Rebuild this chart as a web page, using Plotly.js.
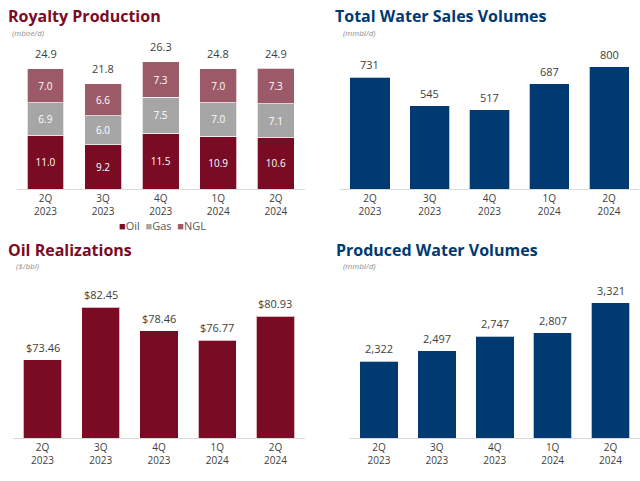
<!DOCTYPE html>
<html>
<head>
<meta charset="utf-8">
<script src="https://cdn.plot.ly/plotly-3.0.1.min.js"></script>
<style>html,body{margin:0;padding:0;background:#fff;}#chart{width:640px;height:481px;}</style>
</head>
<body>
<div id="chart"></div>
<script>
// ---- data ----
const quarters = ['2Q<br>2023', '3Q<br>2023', '4Q<br>2023', '1Q<br>2024', '2Q<br>2024'];
const seriesNames = ['Oil', 'Gas', 'NGL'];
const oilVol = [11.0, 9.2, 11.5, 10.9, 10.6];
const gasVol = [6.9, 6.0, 7.5, 7.0, 7.1];
const nglVol = [7.0, 6.6, 7.3, 7.0, 7.3];
const royaltyTotals = [24.9, 21.8, 26.3, 24.8, 24.9];
const waterSales = [731, 545, 517, 687, 800];
const oilRealizations = [73.46, 82.45, 78.46, 76.77, 80.93];
const producedWater = [2322, 2497, 2747, 2807, 3321];

// ---- styles ----
const MAROON = '#7a0b25', GRAY = '#a6a6a6', ROSE = '#9c5a68', NAVY = '#003a70';
const seriesColors = [MAROON, GRAY, ROSE];
const FONT = 'Open Sans, Noto Sans, sans-serif';
const TXT = '#404040';
const W = 640, H = 481;
const px = v => v / W;
const py = v => (H - v) / H;
const edge = {color: 'rgba(255,255,255,0.7)', width: 1};

const stackVals = [oilVol, gasVol, nglVol];
const traces = stackVals.map((vals, k) => ({
  type: 'bar', name: seriesNames[k], x: quarters, y: vals, xaxis: 'x', yaxis: 'y', width: 0.64,
  marker: {color: seriesColors[k], line: edge}, text: vals.map(v => v.toFixed(1)), textposition: 'inside',
  insidetextanchor: 'middle', textfont: {color: '#fff', size: 10, family: FONT}, hoverinfo: 'skip',
  showlegend: false
})).concat([
  {type: 'bar', name: 'Water Sales', x: quarters, y: waterSales, xaxis: 'x2', yaxis: 'y2', width: 0.67,
   marker: {color: NAVY, line: edge}, showlegend: false, hoverinfo: 'skip'},
  {type: 'bar', name: 'Oil Realizations', x: quarters, y: oilRealizations, xaxis: 'x3', yaxis: 'y3', width: 0.66,
   marker: {color: MAROON, line: edge}, showlegend: false, hoverinfo: 'skip'},
  {type: 'bar', name: 'Produced Water', x: quarters, y: producedWater, xaxis: 'x4', yaxis: 'y4', width: 0.665,
   marker: {color: NAVY, line: edge}, showlegend: false, hoverinfo: 'skip'}
]);

const valueAnn = (xs, ys, labels, xr, yr, shift) => xs.map((x, i) => ({
  x: x, y: ys[i], xref: xr, yref: yr, text: labels[i], showarrow: false,
  yanchor: 'bottom', yshift: shift, font: {size: 11, color: TXT, family: FONT}
}));

const titleAnn = (text, x, y, color) => ({
  text: '<b>' + text + '</b>', x: px(x), y: py(y), xref: 'paper', yref: 'paper',
  xanchor: 'left', yanchor: 'middle', showarrow: false,
  font: {size: 16, color: color, family: FONT}
});
const unitAnn = (text, x, y) => ({
  text: '<i>' + text + '</i>', x: px(x), y: py(y), xref: 'paper', yref: 'paper',
  xanchor: 'left', yanchor: 'middle', showarrow: false,
  font: {size: 8, color: '#8c8c8c', family: FONT}
});

// compact legend, as in the source slide
const legendText = seriesNames.map((n, k) =>
  '<span style="color:' + seriesColors[k] + '">■</span>' + n).join('  ');

const annotations = [].concat(
  valueAnn(quarters, royaltyTotals, royaltyTotals.map(v => v.toFixed(1)), 'x', 'y', 6),
  valueAnn(quarters, waterSales, waterSales.map(v => String(v)), 'x2', 'y2', 3),
  valueAnn(quarters, oilRealizations, oilRealizations.map(v => '$' + v.toFixed(2)), 'x3', 'y3', 3),
  valueAnn(quarters, producedWater, producedWater.map(v => v.toLocaleString('en-US')), 'x4', 'y4', 3),
  [
    titleAnn('Royalty Production', 6, 16, MAROON),
    unitAnn('(mboe/d)', 10, 32),
    titleAnn('Total Water Sales Volumes', 333, 16, NAVY),
    unitAnn('(mmbl/d)', 341, 32),
    titleAnn('Oil Realizations', 6, 250, MAROON),
    unitAnn('($/bbl)', 14, 266),
    titleAnn('Produced Water Volumes', 334, 250, NAVY),
    unitAnn('(mmbl/d)', 341, 266),
    {text: legendText, x: px(162), y: py(225), xref: 'paper', yref: 'paper', xanchor: 'center',
     yanchor: 'middle', showarrow: false, font: {size: 11, color: '#595959', family: FONT}}
  ]
);

const xax = (d0, d1, anchor) => ({
  domain: [px(d0), px(d1)], anchor: anchor, type: 'category', range: [-0.5, 4.5],
  showline: true, linecolor: '#d9d9d9', linewidth: 1, ticks: '', showgrid: false,
  zeroline: false, fixedrange: true, tickfont: {size: 10, color: TXT, family: FONT}
});
const yax = (top, bottom, r, anchor) => ({
  domain: [py(bottom), py(top)], anchor: anchor, range: r, visible: false,
  showgrid: false, zeroline: false, fixedrange: true
});

const layout = {
  width: W, height: H, margin: {l: 0, r: 0, t: 0, b: 0},
  paper_bgcolor: '#fff', plot_bgcolor: '#fff',
  barmode: 'stack', showlegend: false,
  font: {family: FONT, color: TXT},
  xaxis: xax(16.7, 304.7, 'y'),
  yaxis: yax(40, 189, [0, 30.85], 'x'),
  xaxis2: xax(340.1, 638.9, 'y2'),
  yaxis2: yax(40, 189, [0, 974.5], 'x2'),
  xaxis3: xax(13.4, 304.6, 'y3'),
  yaxis3: yax(290, 438.3, [60, 85.4], 'x3'),
  xaxis4: xax(350, 639.5, 'y4'),
  yaxis4: yax(290, 438.3, [1000, 3538], 'x4'),
  annotations: annotations
};

Plotly.newPlot('chart', traces, layout, {staticPlot: true, displayModeBar: false});
</script>
</body>
</html>
